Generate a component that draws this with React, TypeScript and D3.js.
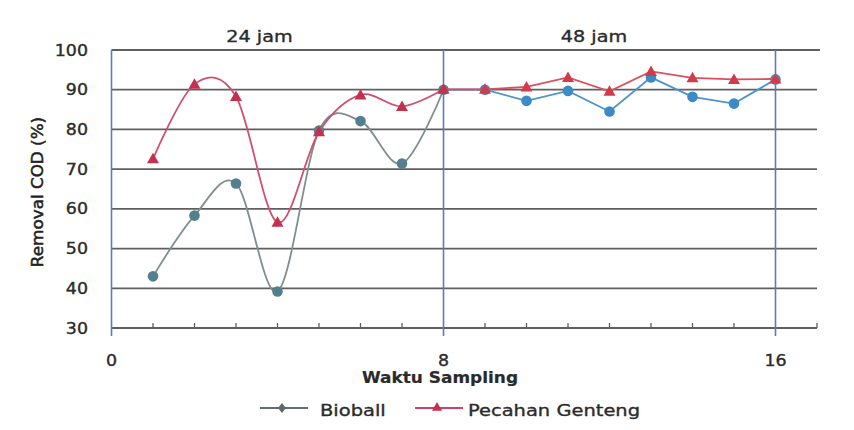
import * as d3 from "d3";

// sampling points 1..16 (1-8 = 24 jam, 9-16 = 48 jam)
const samples = [1, 2, 3, 4, 5, 6, 7, 8, 9, 10, 11, 12, 13, 14, 15, 16];
const bioball = [43, 58.3, 66.4, 39.2, 79.7, 82.1, 71.4, 90, 90, 87.2, 89.7, 84.5, 93.1, 88.2, 86.5, 92.6];
const genteng = [72.6, 91.4, 88.3, 56.6, 79.4, 88.7, 85.8, 90.1, 90.1, 90.7, 93.1, 89.6, 94.6, 93, 92.6, 92.7];
const yTicks = [30, 40, 50, 60, 70, 80, 90, 100];
const xLabels = [0, 8, 16];
const phaseLabels = ["24 jam", "48 jam"];

const W = 854;
const H = 430;

type Pt = { x: number; y: number };

const font = "'DejaVu Sans', Verdana, sans-serif";

function Txt({ x, y, size, anchor = "start", sx = 1.16, weight = "normal", rotate = 0, fill = "#2b2b2b", heavy = 0.35, children }: any) {
    return (
        <text
            transform={`translate(${x},${y}) rotate(${rotate}) scale(${sx},1)`}
            fontFamily={font}
            fontSize={size}
            fontWeight={weight}
            textAnchor={anchor}
            fill={fill}
            stroke={fill}
            strokeWidth={heavy}
        >
            {children}
        </text>
    );
}

function Triangle({ cx, cy, s, fill }: { cx: number; cy: number; s: number; fill: string }) {
    return (
        <path
            d={`M${cx},${cy - s} L${cx + s},${cy + s * 0.75} L${cx - s},${cy + s * 0.75} Z`}
            fill={fill}
        />
    );
}

export default function App() {
    const x = d3.scaleLinear().domain([0, 17]).range([111.5, 817]);
    const y = d3.scaleLinear().domain([30, 100]).range([328, 50]);

    const bio: Pt[] = samples.map((s, i) => ({ x: s, y: bioball[i] }));
    const gen: Pt[] = samples.map((s, i) => ({ x: s, y: genteng[i] }));

    // Excel-style smoothed line for the 24 jam run, straight segments for 48 jam
    const smooth = d3
        .line<Pt>()
        .x((d) => x(d.x))
        .y((d) => y(d.y))
        .curve(d3.curveCardinal.tension(0));
    const straight = d3
        .line<Pt>()
        .x((d) => x(d.x))
        .y((d) => y(d.y));

    const minorTicks = d3.range(1, 18).filter((t) => t !== 8 && t !== 16);

    return (
        <svg width={W} height={H} style={{ position: "absolute", left: 0, top: 0, background: "#fff" }}>
            {/* horizontal gridlines */}
            {yTicks.map((t) => (
                <line key={t} x1={x(0)} x2={t === 100 ? x(17) + 3 : x(17)} y1={y(t)} y2={y(t)} stroke="#5f5f5f" strokeWidth={1.8} />
            ))}
            {/* x ticks */}
            {minorTicks.map((t) => (
                <line key={t} x1={x(t)} x2={x(t)} y1={y(30) - 5} y2={y(30)} stroke="#5f5f5f" strokeWidth={1.3} />
            ))}
            {/* phase dividers */}
            {xLabels.map((t) => (
                <line key={t} x1={x(t)} x2={x(t)} y1={y(100)} y2={y(30) + 8} stroke="#6577bc" strokeWidth={1.6} />
            ))}

            {/* y axis labels */}
            {yTicks.map((t) => (
                <Txt key={t} x={88} y={y(t) + 5.5} size={15} anchor="end">{t}</Txt>
            ))}
            <Txt x={43} y={192} size={15} anchor="middle" rotate={-90} sx={1.12} heavy={0.5} fill="#222">Removal COD (%)</Txt>

            {/* x axis labels */}
            {xLabels.map((t) => (
                <Txt key={t} x={x(t)} y={366} size={15} anchor="middle">{t}</Txt>
            ))}
            <Txt x={440} y={383} size={16} anchor="middle" weight="bold" sx={1.06} heavy={0.2} fill="#2a2a2a">Waktu Sampling</Txt>

            <Txt x={259.5} y={41.5} size={16} anchor="middle" sx={1.2}>{phaseLabels[0]}</Txt>
            <Txt x={594} y={41.5} size={16} anchor="middle" sx={1.2}>{phaseLabels[1]}</Txt>

            {/* Bioball */}
            <path d={smooth(bio.slice(0, 8)) || undefined} fill="none" stroke="#7f8f90" strokeWidth={1.8} />
            <path d={straight(bio.slice(7)) || undefined} fill="none" stroke="#4e93c9" strokeWidth={1.8} />
            {bio.map((d, i) => (
                <circle key={i} cx={x(d.x)} cy={y(d.y)} r={5.3} fill={i < 8 ? "#54808e" : "#3b8cc6"} />
            ))}

            {/* Pecahan Genteng */}
            <path d={smooth(gen.slice(0, 8)) || undefined} fill="none" stroke="#d0506e" strokeWidth={1.8} />
            <path d={straight(gen.slice(7)) || undefined} fill="none" stroke="#dc4f5e" strokeWidth={1.8} />
            {gen.map((d, i) => (
                <Triangle key={i} cx={x(d.x)} cy={y(d.y)} s={6} fill={i < 8 ? "#c5304f" : "#d23c4a"} />
            ))}

            {/* legend */}
            <line x1={260} x2={308} y1={408} y2={408} stroke="#5f6f70" strokeWidth={1.8} />
            <path d="M282,403 L286,408 L282,413 L278,408 Z" fill="#5a6a6c" />
            <Txt x={320} y={416} size={16.5} sx={1.18}>Bioball</Txt>
            <line x1={415} x2={463} y1={408} y2={408} stroke="#d0406a" strokeWidth={1.8} />
            <Triangle cx={437} cy={407} s={5} fill="#c5304f" />
            <Txt x={468} y={416} size={16.5} sx={1.18}>Pecahan Genteng</Txt>
        </svg>
    );
}
